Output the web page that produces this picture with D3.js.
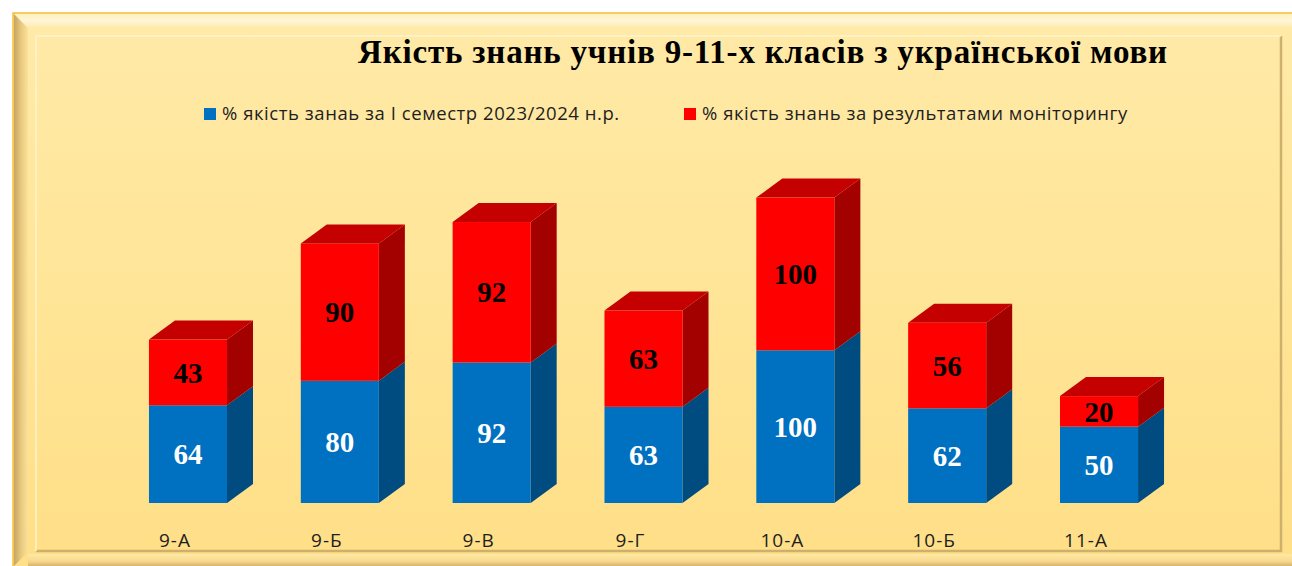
<!DOCTYPE html>
<html>
<head>
<meta charset="utf-8">
<script src="https://cdn.jsdelivr.net/npm/d3@7"></script>
<style>
  body { margin: 0; background: #ffffff; }
  svg { display: block; }
</style>
</head>
<body>
<div class="chart-container"></div>
<script>
// data
const classes = ['9-А', '9-Б', '9-В', '9-Г', '10-А', '10-Б', '11-А'];
const semester = [64, 80, 92, 63, 100, 62, 50];
const monitoring = [43, 90, 92, 63, 100, 56, 20];
const seriesNames = ['% якість занаь за I семестр 2023/2024 н.р.', '% якість знань за результатами моніторингу'];
const title = 'Якість знань учнів 9-11-х класів з української мови';

const width = 1292, height = 566;
const depthX = 26, depthY = 19;

const blue = { front: '#0070c0', side: '#004b80', top: '#005a9a' };
const red = { front: '#ff0000', side: '#a30000', top: '#c40000' };

const svg = d3.select('.chart-container')
  .append('svg')
  .attr('width', width)
  .attr('height', height);

const defs = svg.append('defs');

const gradV = (id, stops) => {
  const g = defs.append('linearGradient').attr('id', id)
    .attr('x1', 0).attr('y1', 0).attr('x2', 0).attr('y2', 1);
  stops.forEach(s => g.append('stop').attr('offset', s[0]).attr('stop-color', s[1]));
};
const gradH = (id, stops) => {
  const g = defs.append('linearGradient').attr('id', id)
    .attr('x1', 0).attr('y1', 0).attr('x2', 1).attr('y2', 0);
  stops.forEach(s => g.append('stop').attr('offset', s[0]).attr('stop-color', s[1]));
};

gradV('bodyGrad', [[0, '#ffeaa8'], [1, '#ffdf86']]);
gradV('panelGrad', [[0, '#ffe9a6'], [0.5, '#ffe597'], [1, '#ffdf88']]);
gradV('topBevel', [[0, '#fff0c0'], [0.5, '#fff6d6'], [1, '#ffe9a8']]);
gradH('leftBevel', [[0, '#c7a463'], [0.5, '#e8c97e'], [1, '#fbe29a']]);
gradV('bottomBevel', [[0, '#ffe9a5'], [0.6, '#f7d98c'], [1, '#d6b46c']]);

// outer frame
const frame = svg.append('g');
frame.append('rect')
  .attr('x', 13).attr('y', 13).attr('width', 1300).attr('height', 570)
  .attr('fill', 'url(#bodyGrad)')
  .attr('stroke', '#f3c03c').attr('stroke-width', 1.5);
frame.append('rect')
  .attr('x', 14).attr('y', 14).attr('width', 1290).attr('height', 14)
  .attr('fill', 'url(#topBevel)');
frame.append('path')
  .attr('d', 'M14,14 L28,28 L28,552 L14,566 Z')
  .attr('fill', 'url(#leftBevel)');
frame.append('rect')
  .attr('x', 28).attr('y', 554).attr('width', 1270).attr('height', 12)
  .attr('fill', 'url(#bottomBevel)');

// inner panel
frame.append('rect')
  .attr('x', 36).attr('y', 36).attr('width', 1245).attr('height', 515)
  .attr('fill', 'url(#panelGrad)');
frame.append('path')
  .attr('d', 'M1281,36 L1281,551 L36,551')
  .attr('fill', 'none').attr('stroke', '#cdb06c').attr('stroke-width', 2.5);
frame.append('path')
  .attr('d', 'M36,551 L36,36 L1281,36')
  .attr('fill', 'none').attr('stroke', '#fff3cc').attr('stroke-width', 1.5);

// title
svg.append('text')
  .attr('x', 763).attr('y', 63)
  .attr('text-anchor', 'middle')
  .style('font-family', '"Liberation Serif", "Times New Roman", serif')
  .style('font-weight', 'bold')
  .style('font-size', '33px')
  .style('letter-spacing', '0.8px')
  .attr('fill', '#000')
  .text(title);

// legend
const legendItems = [
  { name: seriesNames[0], color: blue.front, x: 204 },
  { name: seriesNames[1], color: red.front, x: 684 }
];
const legend = svg.append('g');
legendItems.forEach(d => {
  legend.append('rect')
    .attr('x', d.x).attr('y', 108).attr('width', 12).attr('height', 12)
    .attr('fill', d.color);
  legend.append('text')
    .attr('x', d.x + 18).attr('y', 120)
    .style('font-family', '"Open Sans", "Noto Sans", sans-serif')
    .style('font-size', '18.5px')
    .style('letter-spacing', '0.55px')
    .attr('fill', '#1e1e1e')
    .text(d.name);
});

// scales
const x = d3.scaleBand()
  .domain(classes)
  .range([111, 1176])
  .paddingInner(0.486)
  .paddingOuter(0.25);

const y = d3.scaleLinear()
  .domain([0, 200])
  .range([503, 197.6]);

const data = classes.map((c, i) => ({
  cls: c,
  segs: [
    { v0: 0, v1: semester[i], val: semester[i], col: blue, txt: '#ffffff' },
    { v0: semester[i], v1: semester[i] + monitoring[i], val: monitoring[i], col: red, txt: '#000000' }
  ]
}));

const bars = svg.append('g');

data.forEach(d => {
  const x0 = x(d.cls), w = x.bandwidth();
  const g = bars.append('g');

  d.segs.forEach((s, j) => {
    const yTop = y(s.v1), yBot = y(s.v0);

    // right side face
    g.append('path')
      .attr('d', `M${x0 + w},${yBot} L${x0 + w + depthX},${yBot - depthY} L${x0 + w + depthX},${yTop - depthY} L${x0 + w},${yTop} Z`)
      .attr('fill', s.col.side);

    // front face
    g.append('rect')
      .attr('x', x0).attr('y', yTop)
      .attr('width', w).attr('height', yBot - yTop)
      .attr('fill', s.col.front);

    // top face only for the top segment
    if (j === d.segs.length - 1) {
      g.append('path')
        .attr('d', `M${x0},${yTop} L${x0 + depthX},${yTop - depthY} L${x0 + w + depthX},${yTop - depthY} L${x0 + w},${yTop} Z`)
        .attr('fill', s.col.top);
    }

    g.append('text')
      .attr('x', x0 + w / 2)
      .attr('y', (yTop + yBot) / 2)
      .attr('dy', '0.35em')
      .attr('text-anchor', 'middle')
      .style('font-family', '"Liberation Serif", "Times New Roman", serif')
      .style('font-weight', 'bold')
      .style('font-size', '29px')
      .attr('fill', s.txt)
      .text(s.val);
  });
});

// category labels
svg.append('g')
  .selectAll('text')
  .data(classes)
  .enter()
  .append('text')
  .attr('x', d => x(d) + x.bandwidth() / 2 - 13)
  .attr('y', 547)
  .attr('text-anchor', 'middle')
  .style('font-family', '"Open Sans", "Noto Sans", sans-serif')
  .style('font-size', '19px')
  .style('letter-spacing', '1px')
  .attr('fill', '#1e1e1e')
  .text(d => d);
</script>
</body>
</html>
